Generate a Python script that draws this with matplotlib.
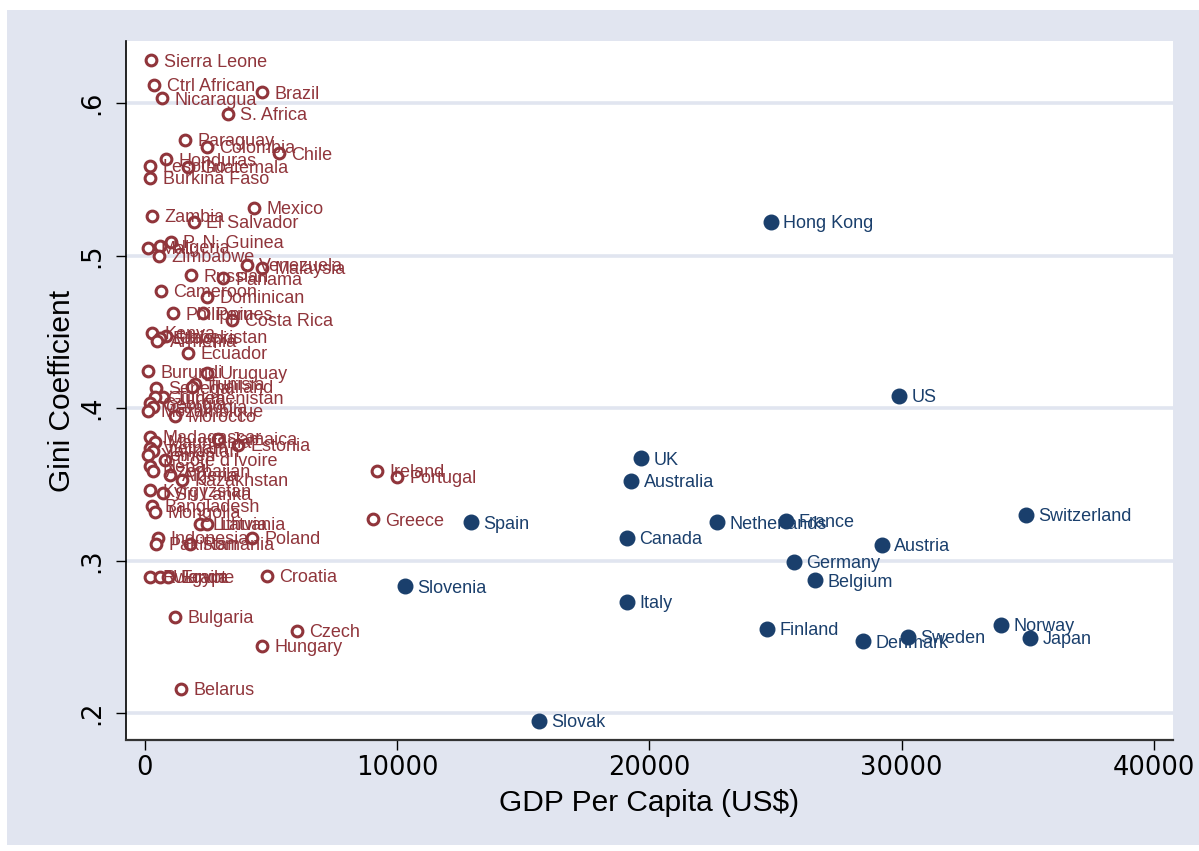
import matplotlib.pyplot as plt
from matplotlib.patches import Rectangle

# poorer countries (hollow red markers)
red_names = ["Sierra Leone", "Ctrl African", "Nicaragua", "Brazil", "S. Africa", "Paraguay",
             "Colombia", "Chile", "Honduras", "Lesotho", "Guatemala", "Burkina Faso",
             "Zambia", "Mexico", "El Salvador", "P. N. Guinea", "Mali", "Nigeria", "Zimbabwe",
             "Venezuela", "Malaysia", "Russian", "Panama", "Cameroon", "Dominican",
             "Philippines", "Peru", "Costa Rica", "Kenya", "Uzbekistan", "Ethiopia", "Armenia",
             "Ecuador", "Burundi", "Uruguay", "Tunisia", "Thailand", "Senegal", "Turkmenistan",
             "Guinea", "Georgia", "Cambodia", "Mozambique", "Morocco",
             "Madagascar", "Jamaica", "Mauritania", "Estonia", "Vietnam", "Tajikistan",
             "Yemen", "Cote d'Ivoire", "Nepal", "Azerbaijan", "Algeria", "Kazakhstan",
             "Kyrgyzstan", "Sri Lanka", "Bangladesh", "Mongolia", "Lithuania", "Latvia",
             "Indonesia", "Pakistan", "Romania", "Poland", "Rwanda", "Ukraine", "Egypt",
             "Croatia", "Bulgaria", "Czech", "Hungary", "Belarus", "Greece", "Ireland",
             "Portugal"]
red_gdp = [240, 360, 670, 4640, 3290, 1590,
           2460, 5310, 830, 200, 1700, 200,
           280, 4320, 1940, 1030, 120, 600, 560,
           4040, 4640, 1820, 3090, 630, 2460,
           1110, 2300, 3450, 280, 830, 600, 480,
           1700, 120, 2460, 1980, 1860, 440, 710,
           400, 200, 320, 120, 1190,
           200, 2890, 400, 3690, 200, 320,
           120, 790, 200, 320, 990, 1470,
           200, 710, 280, 400, 2180, 2460,
           520, 440, 1780, 4240, 200, 600, 910,
           4840, 1190, 6030, 4640, 1430, 9040, 9200,
           9990]
red_gini = [.628, .612, .603, .607, .593, .576,
            .571, .567, .563, .559, .558, .551,
            .526, .531, .522, .509, .505, .506, .500,
            .494, .492, .487, .485, .477, .473,
            .462, .462, .458, .449, .447, .446, .444,
            .436, .424, .423, .416, .414, .413, .407,
            .407, .403, .401, .398, .395,
            .381, .380, .378, .376, .374, .372,
            .369, .366, .362, .359, .356, .353,
            .346, .344, .336, .332, .324, .324,
            .315, .311, .311, .315, .289, .289, .289,
            .290, .263, .254, .244, .216, .327, .359,
            .355]

# rich countries (filled blue markers)
blue_names = ["Hong Kong", "US", "UK", "Australia", "Spain", "Netherlands", "France",
              "Switzerland", "Canada", "Austria", "Germany", "Belgium", "Slovenia", "Italy",
              "Finland", "Norway", "Sweden", "Denmark", "Japan", "Slovak"]
blue_gdp = [24820, 29900, 19670, 19270, 12930, 22680, 25420,
            34930, 19110, 29220, 25730, 26570, 10310, 19110,
            24660, 33940, 30250, 28470, 35090, 15620]
blue_gini = [.522, .408, .367, .352, .325, .325, .326,
             .330, .315, .310, .299, .287, .283, .273,
             .255, .258, .250, .247, .249, .195]

x_ticks = [0, 10000, 20000, 30000, 40000]
y_ticks = [.2, .3, .4, .5, .6]
y_ticklabels = [".2", ".3", ".4", ".5", ".6"]

maroon = "#90353b"
navy = "#1a3f6c"
bg = "#e1e5f0"

fig = plt.figure(figsize=(11.99, 8.51), dpi=100, facecolor="white")
fig.patches.append(Rectangle((7 / 1199, 6 / 851), 1192 / 1199, 835 / 851,
                             transform=fig.transFigure, facecolor=bg,
                             edgecolor="none", zorder=-10))
ax = fig.add_axes([126 / 1199, 1 - 740 / 851, 1047 / 1199, 699 / 851])
ax.set_facecolor("white")

ax.set_xlim(-753, 40760)
ax.set_ylim(0.1823, 0.6407)

for t in y_ticks:
    ax.axhline(t, color=bg, lw=2.6, zorder=1)

ax.scatter(red_gdp, red_gini, s=60, facecolors="white", edgecolors=maroon,
           linewidths=2.2, zorder=3)
for n, x, y in zip(red_names, red_gdp, red_gini):
    ax.annotate(n, (x, y), xytext=(9, -1.2), textcoords="offset points",
                ha="left", va="center", color=maroon, fontsize=13,
                family="Liberation Sans", zorder=4)

ax.scatter(blue_gdp, blue_gini, s=110, color=navy, edgecolors=navy, zorder=3)
for n, x, y in zip(blue_names, blue_gdp, blue_gini):
    ax.annotate(n, (x, y), xytext=(9, -1.2), textcoords="offset points",
                ha="left", va="center", color=navy, fontsize=13,
                family="Liberation Sans", zorder=4)

ax.spines["top"].set_visible(False)
ax.spines["right"].set_visible(False)
ax.spines["left"].set_color("black")
ax.spines["bottom"].set_color("#333333")
ax.spines["left"].set_linewidth(1.2)
ax.spines["bottom"].set_linewidth(1.6)

ax.set_xticks(x_ticks)
ax.set_xticklabels([str(v) for v in x_ticks])
ax.set_yticks(y_ticks)
ax.set_yticklabels(y_ticklabels, rotation=90, va="center")
ax.tick_params(axis="both", labelsize=18.5, length=7, width=1, color="black")
ax.tick_params(axis="y", pad=8)

ax.set_xlabel("GDP Per Capita (US$)", fontsize=21.5, family="Liberation Sans", labelpad=6)
ax.set_ylabel("Gini Coefficient", fontsize=21.5, family="Liberation Sans", labelpad=2)

fig.savefig("out.png", dpi=100, facecolor=fig.get_facecolor())
